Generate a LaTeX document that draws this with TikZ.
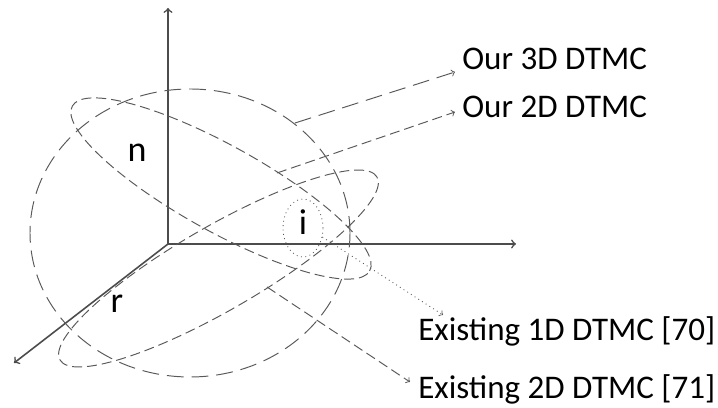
\documentclass[tikz,border=0pt]{standalone}
\usepackage{fontspec}
\setmainfont{Carlito}
\usetikzlibrary{shapes.geometric}
\definecolor{axisgray}{gray}{0.3}
\definecolor{dashgray}{gray}{0.35}
\begin{document}
\begin{tikzpicture}[x=0.02cm,y=0.02cm,
  axis/.style={->,line width=0.9pt,draw=axisgray},
  longdash/.style={draw=dashgray,line width=0.55pt,dash pattern=on 9.6pt off 4.5pt},
  meddash/.style={draw=dashgray,line width=0.55pt,dash pattern=on 5.7pt off 2.8pt},
  dotline/.style={draw=dashgray,line width=0.5pt,dotted},
  caption/.style={font=\fontsize{18.8}{22}\selectfont,inner sep=0pt,anchor=base west},
  axlabel/.style={font=\fontsize{20.5}{24}\selectfont,inner sep=0pt}]
\useasboundingbox (0,0) rectangle (718,408);
% axes
\coordinate (O) at (168,164);
\coordinate (n end) at (168,400);
\coordinate (i end) at (516,164);
\coordinate (r end) at (14,45);
\draw[axis] (O) -- (n end);
\draw[axis] (O) -- (i end);
\draw[axis] (O) -- (r end);
\node[axlabel] (n) at (137,255) {n};
\node[axlabel] (r) at (117,104) {r};
% state spaces
\draw[longdash] (190,175) ellipse [x radius=160, y radius=144];
\draw[meddash,rotate around={-29:(221,219.5)}] (221,219.5) ellipse [x radius=170, y radius=43];
\draw[meddash,rotate around={30:(218.5,139.5)}] (218.5,139.5) ellipse [x radius=183, y radius=42];
\node[dotline,ellipse,minimum width=0.8cm,minimum height=1.16cm,inner sep=0pt] (oneD) at (303,180) {};
\node[axlabel] (i) at (303,186) {i};
% captions
\node[caption] (our3D) at (462,338) {Our 3D DTMC};
\node[caption] (our2D) at (462,290) {Our 2D DTMC};
\node[caption] (ex1D) at (418,67) {Existing 1D DTMC [70]};
\node[caption] (ex2D) at (418,9) {Existing 2D DTMC [71]};
\coordinate (from 3D) at (295,285);
\coordinate (tip 3D) at (455,336);
\coordinate (from 2D) at (277,235);
\coordinate (tip 2D) at (455,296);
\coordinate (tip 1D) at (443,93);
\coordinate (from ex2D) at (267,121);
\coordinate (tip ex2D) at (410,26);
\draw[longdash,->] (from 3D) -- (tip 3D);
\draw[meddash,->] (from 2D) -- (tip 2D);
\draw[dotline,->] (oneD.-25) -- (tip 1D);
\draw[meddash,->] (from ex2D) -- (tip ex2D);
\end{tikzpicture}
\end{document}
